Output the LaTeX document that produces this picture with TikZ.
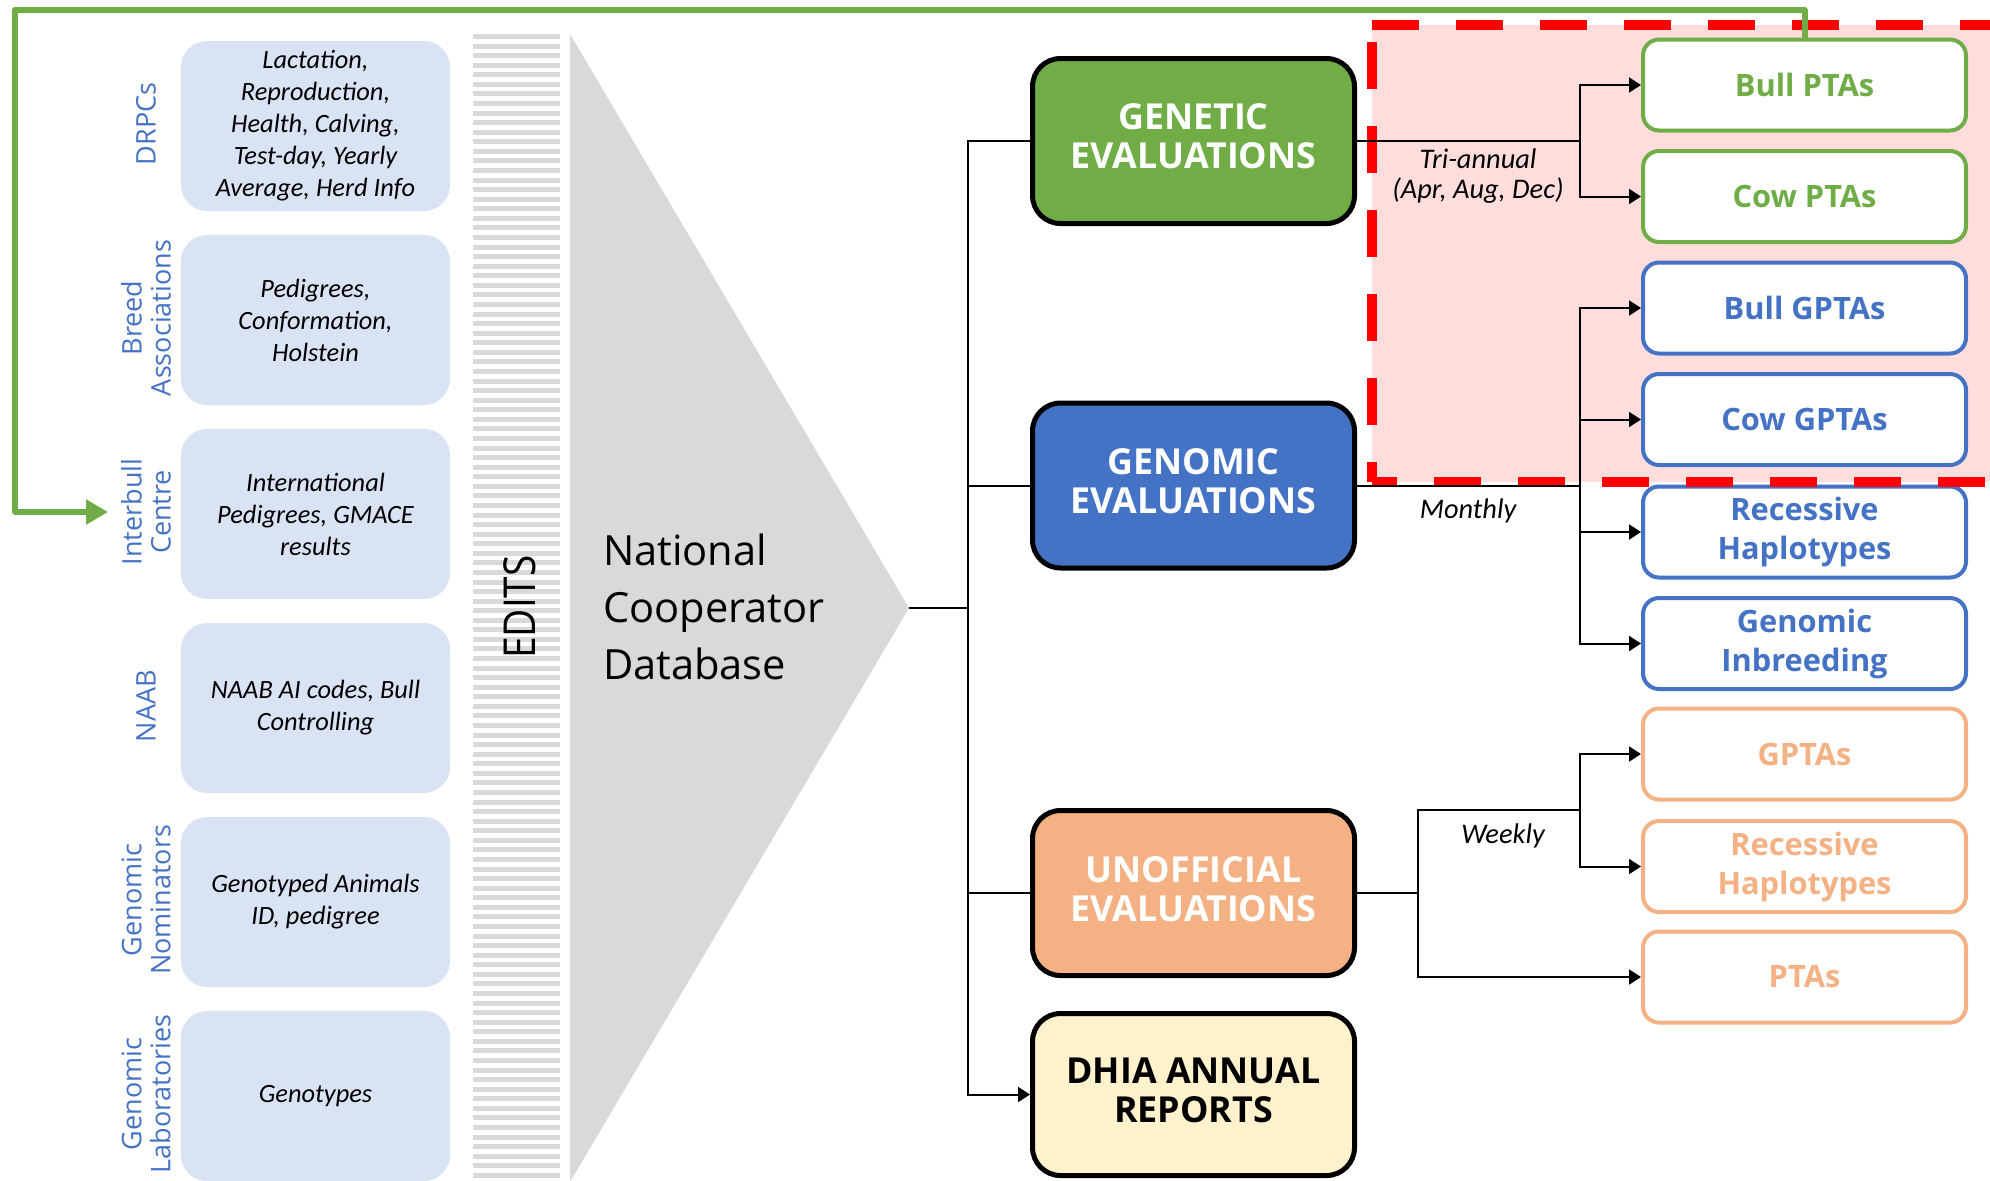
\documentclass[tikz,border=0pt]{standalone}
\usepackage{fontspec}
\setmainfont{Open Sans}
\newfontfamily\notefont{Carlito}
\usetikzlibrary{arrows.meta}

\definecolor{srcfill}{HTML}{DAE3F3}
\definecolor{labelblue}{HTML}{4472C4}
\definecolor{gengreen}{HTML}{70AD47}
\definecolor{genblue}{HTML}{4472C4}
\definecolor{unorange}{HTML}{F4B183}
\definecolor{dhiafill}{HTML}{FFF2CC}
\definecolor{stripegray}{HTML}{D9D9D9}
\definecolor{pinkzone}{HTML}{FFDDDD}
\definecolor{zonered}{HTML}{FF0000}

\tikzset{
  srcbox/.style={fill=srcfill, rounded corners=13pt, minimum width=134.5pt,
    minimum height=85pt, align=center,
    font=\notefont\itshape\fontsize{13.2}{16}\selectfont},
  srclabel/.style={rotate=90, text=labelblue, align=center,
    font=\fontsize{13.5}{14.5}\selectfont},
  evalbox/.style={draw=black, line width=2.5pt, rounded corners=14pt,
    minimum width=161pt, minimum height=82.5pt, align=center, text depth=4.5pt,
    font=\bfseries\fontsize{17.9}{19.5}\selectfont},
  outbox/.style={draw=#1, fill=white, text=#1, line width=2pt,
    rounded corners=8pt, minimum width=161.5pt, minimum height=45.5pt,
    align=center, font=\bfseries\fontsize{15.4}{19.5}\selectfont},
  conn/.style={draw=black, line width=1pt},
  tip/.style={-{Triangle[length=6pt,width=7.5pt]}},
  freq/.style={align=center, font=\notefont\itshape\fontsize{14.2}{14.8}\selectfont},
  feedback/.style={draw=gengreen, line width=3pt, line join=round,
    -{Triangle[length=11pt,width=12pt]}},
  zoneedge/.style={draw=zonered, line width=5pt, dash pattern=on 23.5pt off 18.5pt},
}

\begin{document}
\begin{tikzpicture}[x=0.5pt, y=-0.5pt]
\useasboundingbox (0,0) rectangle (1990,1180);

% highlighted zone around the official outputs
\fill[pinkzone] (1372,25) rectangle (1990,482);

% EDITS bar and database funnel
\foreach \i in {0,...,119}
  \fill[stripegray] (473,{34+9.57*\i}) rectangle (560,{39+9.57*\i});
\coordinate (apex) at (909,608);
\fill[stripegray] (570,34) -- (apex) -- (570,1182) -- cycle;
\node[rotate=90, font=\fontsize{22}{22}\selectfont] (edits) at (520,607)
  {\scalebox{0.88}[1]{EDITS}};
\node[anchor=west, align=left, font=\fontsize{20.8}{28.5}\selectfont] (ncd)
  at (596,607) {National\\Cooperator\\Database};

% data sources
\node[srcbox] (s1) at (315.5,126) {Lactation,\\Reproduction,\\Health, Calving,\\Test-day, Yearly\\Average, Herd Info};
\node[srcbox] (s2) at (315.5,320) {Pedigrees,\\Conformation,\\Holstein};
\node[srcbox] (s3) at (315.5,514) {International\\Pedigrees, GMACE\\results};
\node[srcbox] (s4) at (315.5,708) {NAAB AI codes, Bull\\Controlling};
\node[srcbox] (s5) at (315.5,902) {Genotyped Animals\\ID, pedigree};
\node[srcbox] (s6) at (315.5,1096) {Genotypes};

\node[srclabel] (l1) at (146,124) {DRPCs};
\node[srclabel] (l2) at (146,318) {Breed\\Associations};
\node[srclabel] (l3) at (146,512) {Interbull\\Centre};
\node[srclabel] (l4) at (146,706) {NAAB};
\node[srclabel] (l5) at (146,900) {Genomic\\Nominators};
\node[srclabel] (l6) at (146,1094) {Genomic\\Laboratories};
\coordinate (ibin) at (108,512);

% evaluation types
\node[evalbox, fill=gengreen, text=white] (genetic) at (1193.5,141) {GENETIC\\EVALUATIONS};
\node[evalbox, fill=genblue, text=white] (genomic) at (1193.5,485.5) {GENOMIC\\EVALUATIONS};
\node[evalbox, fill=unorange, text=white] (unoff) at (1193.5,893) {UNOFFICIAL\\EVALUATIONS};
\node[evalbox, fill=dhiafill, text=black, minimum height=81pt] (dhia) at (1193.5,1094.5) {DHIA ANNUAL\\REPORTS};

% published results
\node[outbox=gengreen] (bpta) at (1804.5,85) {Bull PTAs};
\node[outbox=gengreen] (cpta) at (1804.5,196.5) {Cow PTAs};
\node[outbox=genblue] (bgpta) at (1804.5,308) {Bull GPTAs};
\node[outbox=genblue] (cgpta) at (1804.5,419.5) {Cow GPTAs};
\node[outbox=genblue] (rhap) at (1804.5,532) {Recessive\\Haplotypes};
\node[outbox=genblue] (ginb) at (1804.5,643.5) {Genomic\\Inbreeding};
\node[outbox=unorange] (ugpta) at (1804.5,754) {GPTAs};
\node[outbox=unorange] (urhap) at (1804.5,866.5) {Recessive\\Haplotypes};
\node[outbox=unorange] (upta) at (1804.5,977) {PTAs};

% dashed border of the zone
\draw[zoneedge] (1372,25) -- (1990,25);
\draw[zoneedge, dash phase=13.5pt] (1372,482) -- (1372,25);
\draw[zoneedge, dash phase=11pt] (1372,482) -- (1990,482);

% connectors
\coordinate (trunk) at (968,0);
\coordinate (bx) at (1580,0);
\coordinate (ux) at (1418,0);
\coordinate (uj) at (1580,810);

\draw[conn] (apex) -- (apex -| trunk);
\draw[conn, tip] (genetic.west) -| (trunk |- dhia.west) -- (dhia.west);
\draw[conn] (genomic.west) -- (genomic.west -| trunk);
\draw[conn] (unoff.west) -- (unoff.west -| trunk);

\draw[conn] (genetic.east) -- (genetic.east -| bx);
\draw[conn, tip] (genetic.east -| bx) |- (bpta.west);
\draw[conn, tip] (genetic.east -| bx) |- (cpta.west);

\draw[conn] (genomic.east) -- (genomic.east -| bx);
\draw[conn, tip] (genomic.east -| bx) |- (bgpta.west);
\draw[conn, tip] (genomic.east -| bx) |- (cgpta.west);
\draw[conn, tip] (genomic.east -| bx) |- (rhap.west);
\draw[conn, tip] (genomic.east -| bx) |- (ginb.west);

\draw[conn] (unoff.east) -- (unoff.east -| ux);
\draw[conn] (unoff.east -| ux) |- (uj);
\draw[conn, tip] (uj) |- (ugpta.west);
\draw[conn, tip] (uj) |- (urhap.west);
\draw[conn, tip] (unoff.east -| ux) |- (upta.west);

\node[freq] (tri) at (1478,176) {Tri-annual\\(Apr, Aug, Dec)};
\node[freq] (mon) at (1468,511) {Monthly};
\node[freq] (wk) at (1503,836) {Weekly};

% feedback of international results
\coordinate (fbcorner) at (15,10);
\draw[feedback] (bpta.north) |- (fbcorner) |- (ibin);
\end{tikzpicture}
\end{document}
